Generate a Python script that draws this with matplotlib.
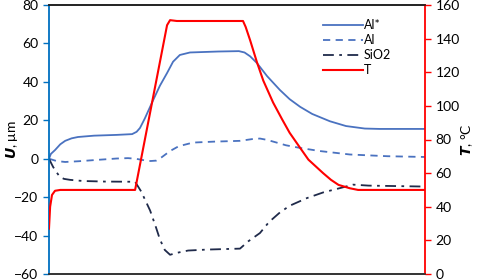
import matplotlib.pyplot as plt
import numpy as np
plt.rcParams.update({'font.size': 10, 'font.family': ['Lato', 'DejaVu Sans']})

# time axis (arbitrary units, no ticks in the original)
t_alstar = [0, 0.5, 1.6, 3, 4.3, 6, 7.7, 12, 18, 22.1, 23.3, 24.2, 25.5, 27.7, 29.5, 31.4, 33, 34.8,
            37.5, 45, 50.5, 52, 53.5, 55.3, 58, 61.4, 64, 66.8, 70, 74.7, 79, 84, 88, 100]
u_alstar = [0, 2.5, 4.5, 7.5, 9.3, 10.6, 11.3, 12, 12.4, 12.8, 14, 16, 21, 30.5, 38, 44.6, 50.5, 54,
            55.3, 55.8, 56, 55.3, 53.3, 49.8, 43, 35.8, 31, 27, 23.3, 19.5, 17, 15.7, 15.5, 15.5]

t_al = [0, 2, 4.3, 8, 13.6, 18, 21, 23, 25, 27, 28.5, 30, 32.2, 34.5, 38.3, 44, 50.8, 54, 56.1,
        58, 60.9, 63, 66.8, 72, 80, 90, 100]
u_al = [0, -1.2, -1.7, -1.3, -0.5, 0.1, 0.3, 0, -0.7, -1.2, -1, 0.8, 4, 6.5, 8.4, 8.9, 9.3, 10.2, 10.5,
        9.8, 8.2, 7, 5.6, 4, 2.2, 1.3, 0.9]

t_sio2 = [0, 0.5, 1.1, 2, 2.9, 4, 5.6, 9, 15, 22.9, 24.5, 26.9, 28.5, 29.5, 30.8, 32.2, 34, 37, 42,
          50.8, 53, 56.1, 58.5, 61.4, 64, 68.6, 73, 77, 80.9, 85, 100]
u_sio2 = [0, -2, -4.3, -7, -9.5, -10.5, -11, -11.6, -11.9, -12, -17, -27, -36, -42, -47.5, -50, -49,
          -47.8, -47.3, -46.8, -43, -38.7, -33, -28, -24.5, -20.5, -17.5, -15.5, -13.5, -14, -14.5]

t_temp = [0, 0.3, 0.8, 1.6, 3, 22.9, 31.4, 32.2, 34, 51.6, 52.3, 53.5, 55.3, 57, 59.6, 62, 64, 66.8,
          69, 72.9, 75, 77, 80, 82.2, 100]
temp = [27, 40, 47, 49.5, 50, 50, 148, 151, 150.5, 150.5, 147, 139, 126, 115, 102, 92, 84, 75,
        68, 60, 56, 53, 51, 50, 50]

fig = plt.figure(figsize=(4.78, 2.79), dpi=100)
ax = fig.add_axes([0.1025, 0.018, 0.7866, 0.964])
ax2 = ax.twinx()

blue = '#4a72c0'
ax.plot(t_alstar, u_alstar, color=blue, lw=1.3, label='Al*')
ax.plot(t_al, u_al, color=blue, lw=1.3, ls=(0, (4, 3)), label='Al')
ax.plot(t_sio2, u_sio2, color='#1f2a4a', lw=1.3, ls=(0, (6, 3, 1.5, 3)), label='SiO2')
ax2.plot(t_temp, temp, color='#ff0000', lw=1.5, label='T')

ax.set_xlim(0, 100)
ax.set_ylim(-60, 80)
ax.set_yticks(np.arange(-60, 81, 20))
ax.set_xticks([])
ax2.set_ylim(0, 160)
ax2.set_yticks(np.arange(0, 161, 20))

ax.spines['left'].set_color('#0070c0')
ax.spines['left'].set_linewidth(1.3)
ax2.spines['left'].set_visible(False)
ax2.spines['right'].set_color('#ff0000')
ax2.spines['right'].set_linewidth(1.3)
ax.spines['right'].set_visible(False)
for a in (ax, ax2):
    a.spines['top'].set_color('#222222')
    a.spines['bottom'].set_color('#333333')
    a.spines['top'].set_linewidth(1.2)
    a.spines['bottom'].set_linewidth(1.2)
ax.tick_params(axis='y', colors='#0070c0', labelcolor='black', length=4, width=1)
ax2.tick_params(axis='y', colors='#ff0000', labelcolor='black', length=4, width=1)

# bold-italic variable letter with plain unit
fig.text(0.025, 0.5, r'$\mathbfit{U}$, μm', rotation=90, va='center', ha='center', fontsize=10)
fig.text(0.978, 0.5, r'$\mathbfit{T}$, °C', rotation=90, va='center', ha='center', fontsize=10)

h1, l1 = ax.get_legend_handles_labels()
h2, l2 = ax2.get_legend_handles_labels()
ax2.legend(h1 + h2, l1 + l2, loc='upper right', frameon=False, fontsize=9,
           handlelength=3.2, handletextpad=0.1, labelspacing=0.25,
           bbox_to_anchor=(0.94, 0.99))

plt.savefig('out.png', dpi=100)
